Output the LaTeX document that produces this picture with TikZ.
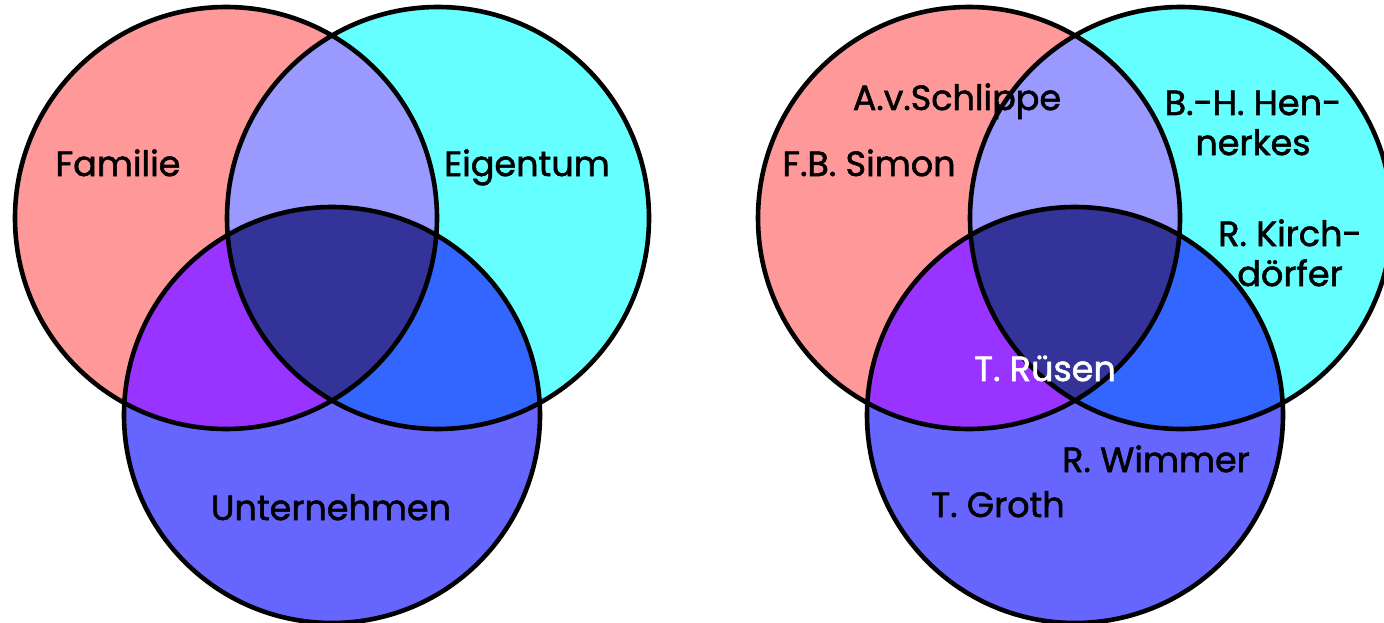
\documentclass[tikz,border=0pt]{standalone}
\usepackage{fontspec}
\setmainfont{Poppins}[FakeBold=1.6]
\definecolor{famcol}{HTML}{FF9999}
\definecolor{eigcol}{HTML}{66FFFF}
\definecolor{untcol}{HTML}{6666FF}
\definecolor{fecol}{HTML}{9999FF}
\definecolor{fucol}{HTML}{9933FF}
\definecolor{eucol}{HTML}{3366FF}
\definecolor{allcol}{HTML}{333399}
% three overlapping circles with the colours of all seven regions
\newcommand\threesets{%
  \def\rf{(226,218) circle[radius=211]}%
  \def\re{(438,218) circle[radius=211]}%
  \def\ru{(332,415) circle[radius=208]}%
  \fill[famcol] \rf;
  \fill[eigcol] \re;
  \fill[untcol] \ru;
  \begin{scope}\clip \rf; \fill[fecol] \re; \end{scope}
  \begin{scope}\clip \rf; \fill[fucol] \ru; \end{scope}
  \begin{scope}\clip \re; \fill[eucol] \ru; \end{scope}
  \begin{scope}\clip \rf; \clip \re; \fill[allcol] \ru; \end{scope}
}
\newcommand\threerings{\draw[ring] \rf \re \ru;}
\begin{document}
\begin{tikzpicture}[x=1pt,y=-1pt,
  ring/.style={line width=4.6pt},
  lbl/.style={font=\fontsize{35}{40}\selectfont, align=center, inner sep=0pt, anchor=base}]
\useasboundingbox (0,0) rectangle (1384,623);
\clip (0,0) rectangle (1384,623);

% left diagram: the three domains
\begin{scope}
  \threesets
  \node[lbl] (familie) at (118,176) {Familie};
  \node[lbl] (eigentum) at (527,176) {Eigentum};
  \node[lbl] (unternehmen) at (331,520) {Unternehmen};
  \threerings
\end{scope}

% right diagram: authors placed in the domains
\begin{scope}[xshift=743pt]
  \threesets
  \node[lbl] (schlippe) at (214,110) {A.v.Schlippe};
  \node[lbl] (simon) at (126,176) {F.B. Simon};
  \node[lbl] (hennerkes) at (510,155) {B.-H. Hen-\\nerkes};
  \node[lbl] (kirchdoerfer) at (547,286) {R. Kirch-\\dörfer};
  \node[lbl] (wimmer) at (413,472) {R. Wimmer};
  \node[lbl] (groth) at (255,517) {T. Groth};
  \threerings
  \node[lbl, text=white] (ruesen) at (302,381) {T. Rüsen};
\end{scope}
\end{tikzpicture}
\end{document}
